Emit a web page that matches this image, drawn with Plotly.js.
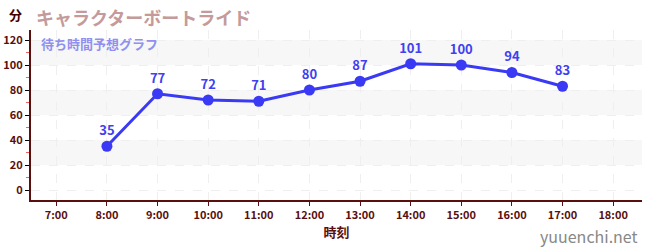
<!DOCTYPE html>
<html><head><meta charset="utf-8">
<script src="https://cdn.plot.ly/plotly-3.0.1.min.js"></script>
<style>html,body{margin:0;padding:0;background:#fff}#c{width:650px;height:250px}</style>
</head><body><div id="c"></div>
<script>
const hours = [8, 9, 10, 11, 12, 13, 14, 15, 16, 17];
const waits = [35, 77, 72, 71, 80, 87, 101, 100, 94, 83];
const tickVals = [7, 8, 9, 10, 11, 12, 13, 14, 15, 16, 17, 18];
const tickText = ["7:00","8:00","9:00","10:00","11:00","12:00","13:00","14:00","15:00","16:00","17:00","18:00"];
const bands = [[20, 40], [60, 80], [100, 120]];

const F = '"Noto Sans CJK JP", "Noto Sans", sans-serif';
const maroon = '#5a0f0f';
const shapes = bands.map(b => ({type:'rect', xref:'paper', yref:'y', x0:0, x1:1, y0:b[0], y1:b[1], fillcolor:'#f7f7f7', line:{width:0}, layer:'below'}));

Plotly.newPlot('c', [{
  x: hours, y: waits, type:'scatter', mode:'lines+markers+text',
  text: waits.map(String), textposition:'top center',
  textfont:{family:F, size:13, color:'#4040f0', weight:'bold'},
  line:{color:'#3a3af5', width:3},
  marker:{color:'#3a3af5', size:11},
  cliponaxis:false, hoverinfo:'none'
}], {
  width:650, height:250,
  margin:{l:31, r:8, t:30, b:50},
  paper_bgcolor:'#fff', plot_bgcolor:'#fff',
  showlegend:false,
  shapes: shapes,
  xaxis:{range:[6.5, 18.57], tickvals:tickVals, ticktext:tickText,
    tickfont:{family:F, size:11, color:maroon, weight:'bold'}, showline:true, linecolor:maroon, linewidth:2,
    ticks:'outside', ticklen:4, tickcolor:maroon, showgrid:true, gridcolor:'#efefef', griddash:'dash', zeroline:false,
    title:{text:'時刻', font:{family:F, size:13, color:maroon, weight:'bold'}, standoff:4}},
  yaxis:{range:[-8, 128], tickvals:[0,20,40,60,80,100,120], tickfont:{family:F, size:11, color:maroon, weight:'bold'},
    showline:true, linecolor:maroon, linewidth:2, ticks:'outside', ticklen:4, tickcolor:'#000',
    showgrid:true, gridcolor:'#efefef', griddash:'dash', zeroline:false,
    minor:{tickvals:[10,30,50,70,90,110], ticks:'outside', ticklen:3, tickcolor:'#f06060', showgrid:false}},
  annotations:[
    {text:'分', xref:'paper', yref:'paper', x:-0.04, y:1.0, xanchor:'left', yanchor:'bottom', yshift:4, showarrow:false, font:{family:F, size:13, color:'#400000', weight:'bold'}},
    {text:'キャラクターボートライド', xref:'paper', yref:'paper', x:0.005, y:1.0, xanchor:'left', yanchor:'bottom', yshift:-2, showarrow:false, font:{family:F, size:18, color:'#c49a9a', weight:'bold'}},
    {text:'待ち時間予想グラフ', xref:'paper', yref:'paper', x:0.013, y:1.0, xanchor:'left', yanchor:'top', yshift:-2, showarrow:false, font:{family:F, size:13, color:'#9090f0', weight:'bold'}},
    {text:'yuuenchi.net', xref:'paper', yref:'paper', x:0.995, y:0, xanchor:'right', yanchor:'top', yshift:-23, showarrow:false, borderpad:0, font:{family:F, size:16, color:'#888'}}
  ]
}, {displayModeBar:false, staticPlot:true});
</script></body></html>
